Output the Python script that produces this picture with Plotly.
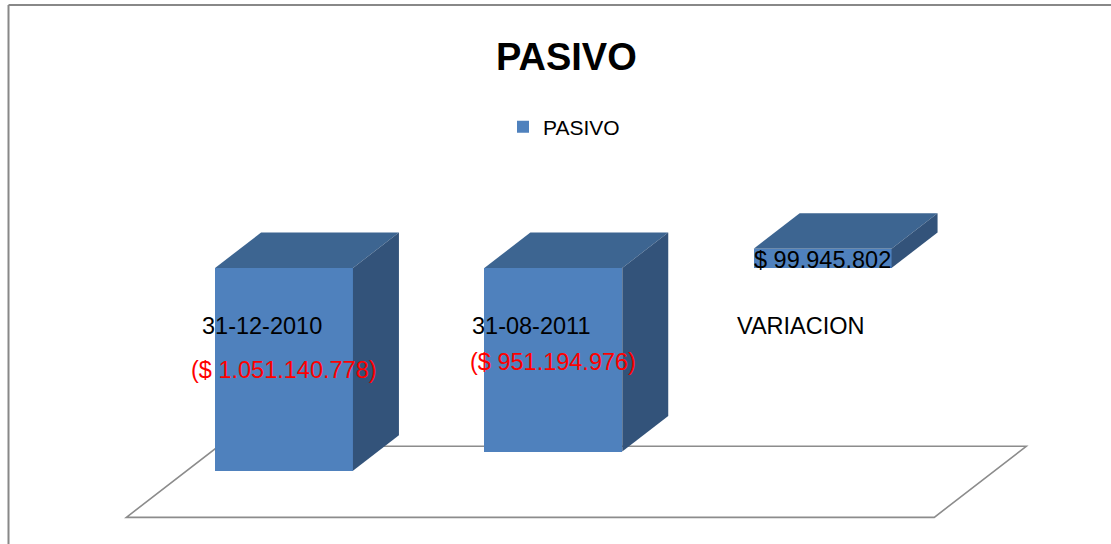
import plotly.graph_objects as go

# ---------------- data ----------------
categories = ["31-12-2010", "31-08-2011", "VARIACION"]
values = [-1051140778, -951194976, 99945802]
series_name = "PASIVO"
chart_title = "PASIVO"
axis_min = -1.2e9

# ---------------- styles ----------------
W, H = 1111, 544
FRONT = "#4F81BD"
TOP = "#3D6591"
SIDE = "#33537A"
FONT = "Liberation Sans"
BAR_W = 0.512
DX = 0.1708      # depth offset in category units
DY = 0.184e9     # depth offset in value units
X_RANGE = [-1.0546, 3.0709]
Y_RANGE = [-1.4301e9, 1.3886e9]
cat_shift = (-22, -58)            # pixels from (category, 0)
val_shift = [-102, -93.5, 8]      # pixels from (category, 0)


def fmt(v):
    s = "{:,}".format(abs(int(v))).replace(",", ".")
    return "($ " + s + ")" if v < 0 else "$ " + s


def px(x, y):
    return x / W, 1 - y / H


idx = list(range(len(categories)))
fig = go.Figure()

# front faces
fig.add_trace(go.Bar(
    x=idx, y=values, width=BAR_W, name=series_name,
    marker=dict(color=FRONT, line=dict(width=0)),
    hoverinfo="skip", showlegend=True,
))

# top and side faces derived from values
for i, v in zip(idx, values):
    lo, hi = min(0, v), max(0, v)
    x0, x1 = i - BAR_W / 2, i + BAR_W / 2
    fig.add_trace(go.Scatter(
        x=[x0, x1, x1 + DX, x0 + DX, x0],
        y=[hi, hi, hi + DY, hi + DY, hi],
        fill="toself", fillcolor=TOP, mode="lines",
        line=dict(width=0, color=TOP), hoverinfo="skip", showlegend=False,
    ))
    fig.add_trace(go.Scatter(
        x=[x1, x1, x1 + DX, x1 + DX, x1],
        y=[lo, hi, hi + DY, lo + DY, lo],
        fill="toself", fillcolor=SIDE, mode="lines",
        line=dict(width=0, color=SIDE), hoverinfo="skip", showlegend=False,
    ))

# floor (below traces)
n = len(categories)
fx = [-0.5 - 0.5 * DX, n - 0.5 - 0.5 * DX, n - 0.5 + 1.5 * DX, -0.5 + 1.5 * DX]
fy = [axis_min - 0.5 * DY, axis_min - 0.5 * DY, axis_min + 1.5 * DY, axis_min + 1.5 * DY]
path = "M {} {} L {} {} L {} {} L {} {} Z".format(
    fx[0], fy[0], fx[1], fy[1], fx[2], fy[2], fx[3], fy[3])
shapes = [dict(type="path", xref="x", yref="y", path=path, layer="below",
               line=dict(color="#8C8C8C", width=1.6), fillcolor="rgba(0,0,0,0)")]

# outer border (top and left)
shapes.append(dict(type="line", xref="paper", yref="paper",
                   x0=px(8.5, 0)[0], x1=1, y0=px(0, 5)[1], y1=px(0, 5)[1],
                   line=dict(color="#888888", width=2)))
shapes.append(dict(type="line", xref="paper", yref="paper",
                   x0=px(8.5, 0)[0], x1=px(8.5, 0)[0], y0=0, y1=px(0, 5)[1],
                   line=dict(color="#888888", width=2)))

annotations = []
tx, ty = px(566.5, 56.5)
annotations.append(dict(text="<b>" + chart_title + "</b>", x=tx, y=ty, xref="paper", yref="paper",
                        xanchor="center", yanchor="middle", showarrow=False,
                        font=dict(family=FONT, size=38, color="black")))
for i, (c, v) in enumerate(zip(categories, values)):
    annotations.append(dict(text=c, x=i, y=0, xref="x", yref="y", xshift=cat_shift[0],
                            yshift=cat_shift[1], xanchor="center", yanchor="middle",
                            showarrow=False, font=dict(family=FONT, size=23.5, color="black")))
    annotations.append(dict(text=fmt(v), x=i, y=0, xref="x", yref="y", yshift=val_shift[i],
                            xanchor="center", yanchor="middle", showarrow=False,
                            font=dict(family=FONT, size=23.5,
                                      color="#FF0000" if v < 0 else "black")))

lx, ly = px(503, 127)
fig.update_layout(
    width=W, height=H, autosize=False,
    margin=dict(l=0, r=0, t=0, b=0),
    paper_bgcolor="white", plot_bgcolor="white",
    xaxis=dict(range=X_RANGE, visible=False, fixedrange=True),
    yaxis=dict(range=Y_RANGE, visible=False, fixedrange=True),
    showlegend=True,
    legend=dict(orientation="h", x=lx, y=ly, xanchor="left", yanchor="middle",
                font=dict(family=FONT, size=21, color="black"), bgcolor="rgba(0,0,0,0)"),
    shapes=shapes, annotations=annotations,
    bargap=0,
)

fig.write_html("out.html", config={"displayModeBar": False},
               post_script="document.body.style.margin='0';")
